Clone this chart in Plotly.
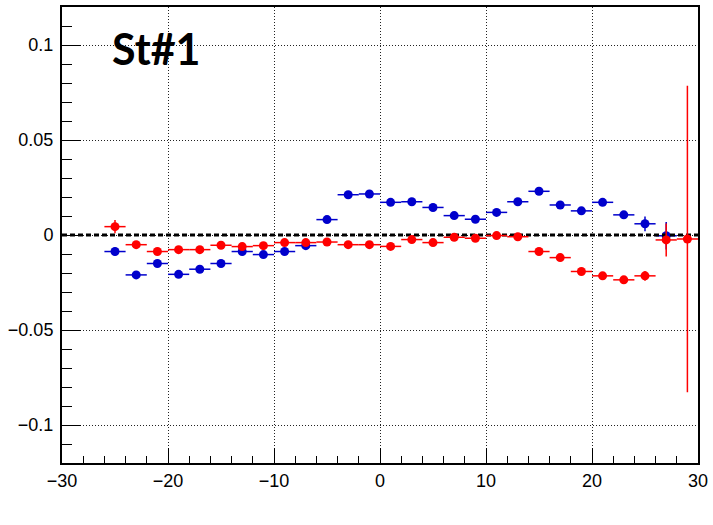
import plotly.graph_objects as go

# Bin centres (bin width 2) and per-bin values for the two series
blue_x = [-25, -23, -21, -19, -17, -15, -13, -11, -9, -7, -5, -3, -1,
          1, 3, 5, 7, 9, 11, 13, 15, 17, 19, 21, 23, 25, 27]
blue_y = [-0.0087, -0.0210, -0.0150, -0.0207, -0.0180, -0.0150, -0.0087,
          -0.0103, -0.0087, -0.0056, 0.0081, 0.0212, 0.0216,
          0.0172, 0.0175, 0.0145, 0.0102, 0.0083, 0.0119, 0.0175, 0.0230,
          0.0158, 0.0127, 0.0172, 0.0106, 0.0059, -0.0004]
blue_err = [0.0021, 0.0015, 0.0015, 0.0015, 0.0015, 0.0015, 0.0015,
            0.0015, 0.0015, 0.0015, 0.0015, 0.0015, 0.0015,
            0.0015, 0.0015, 0.0015, 0.0015, 0.0015, 0.0015, 0.0015, 0.0015,
            0.0015, 0.0015, 0.0015, 0.0018, 0.0039, 0.0072]

red_x = [-25, -23, -21, -19, -17, -15, -13, -11, -9, -7, -5, -3, -1,
         1, 3, 5, 7, 9, 11, 13, 15, 17, 19, 21, 23, 25, 27, 29]
red_y = [0.0044, -0.0051, -0.0087, -0.0077, -0.0077, -0.0054, -0.0061,
         -0.0056, -0.0040, -0.0040, -0.0037, -0.0051, -0.0051,
         -0.0060, -0.0024, -0.0040, -0.0012, -0.0017, -0.0003, -0.0009,
         -0.0087, -0.0119, -0.0192, -0.0215, -0.0236, -0.0215, -0.0026, -0.0021]
red_err = [0.0035, 0.0015, 0.0015, 0.0015, 0.0015, 0.0015, 0.0015,
           0.0015, 0.0015, 0.0015, 0.0015, 0.0015, 0.0015,
           0.0015, 0.0015, 0.0015, 0.0015, 0.0015, 0.0015, 0.0015,
           0.0015, 0.0015, 0.0015, 0.0015, 0.0015, 0.0026, 0.0087, 0.0807]

bin_half_width = 1
x_range = [-30, 30]
y_range = [-0.12, 0.12]
y_tickvals = [-0.1, -0.05, 0, 0.05, 0.1]
y_ticktext = ["\u22120.1", "\u22120.05", "0", "0.05", "0.1"]
x_tickvals = [-30, -20, -10, 0, 10, 20, 30]
x_ticktext = ["\u221230", "\u221220", "\u221210", "0", "10", "20", "30"]

BLUE = "#0000cc"
RED = "#ff0000"


def series(xs, ys, errs, color):
    return go.Scatter(
        x=xs, y=ys, mode="markers",
        marker=dict(color=color, size=9, line=dict(width=0)),
        error_x=dict(type="constant", value=bin_half_width, width=0,
                     thickness=1.5, color=color),
        error_y=dict(type="data", array=errs, width=0,
                     thickness=1.5, color=color),
        showlegend=False, hoverinfo="x+y",
    )


fig = go.Figure()
fig.add_trace(series(blue_x, blue_y, blue_err, BLUE))
# dashed reference line at zero, drawn between the two series
fig.add_trace(go.Scatter(
    x=x_range, y=[0, 0], mode="lines",
    line=dict(color="black", width=3, dash="5px,3px"),
    showlegend=False, hoverinfo="skip",
))
fig.add_trace(series(red_x, red_y, red_err, RED))

tick_font = dict(family="Liberation Sans, Arial, sans-serif", size=18, color="black")

fig.update_xaxes(
    range=x_range, tickvals=x_tickvals, ticktext=x_ticktext,
    ticks="inside", ticklen=15, tickwidth=1, tickcolor="black",
    minor=dict(dtick=2, tick0=0, ticks="inside", ticklen=7,
               tickwidth=1, tickcolor="black", showgrid=False),
    showgrid=True, gridcolor="#222222", gridwidth=1, griddash="1px,2px",
    showline=True, linecolor="black", linewidth=2, mirror=True,
    zeroline=False, tickfont=tick_font, ticklabelstandoff=0,
)
fig.update_yaxes(
    range=y_range, tickvals=y_tickvals, ticktext=y_ticktext,
    ticks="inside", ticklen=19, tickwidth=1, tickcolor="black",
    minor=dict(dtick=0.01, tick0=0, ticks="inside", ticklen=10,
               tickwidth=1, tickcolor="black", showgrid=False),
    showgrid=True, gridcolor="#222222", gridwidth=1, griddash="1px,2px",
    showline=True, linecolor="black", linewidth=2, mirror=True,
    zeroline=False, tickfont=tick_font, ticklabelstandoff=3,
)

fig.add_annotation(
    text="<b>St#1</b>", xref="paper", yref="paper",
    x=0.075, y=0.91, xanchor="left", yanchor="middle",
    showarrow=False,
    font=dict(family="Lato, Open Sans, sans-serif", size=43, color="black"),
)

fig.update_layout(
    width=713, height=525,
    margin=dict(l=62, r=12, t=5, b=62),
    paper_bgcolor="white", plot_bgcolor="white",
)

fig.write_html("out.html")
